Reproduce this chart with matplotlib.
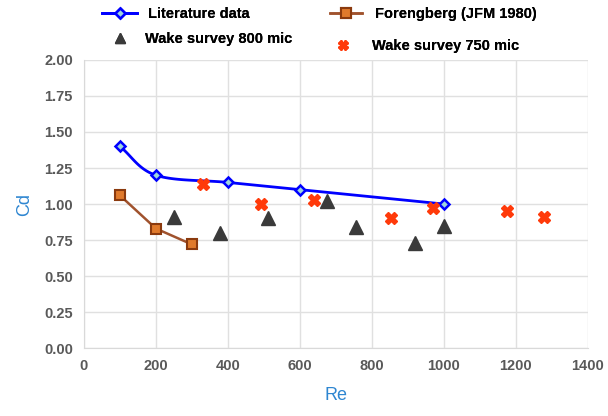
import numpy as np
import matplotlib
matplotlib.use("Agg")
import matplotlib.pyplot as plt

# Literature data (smoothed line, diamonds)
lit_re = [100, 200, 400, 600, 1000]
lit_cd = [1.40, 1.20, 1.15, 1.10, 1.00]

# Forengberg (JFM 1980)
for_re = [100, 200, 300]
for_cd = [1.06, 0.83, 0.72]

# Wake survey 800 mic
w800_re = [250, 378, 511, 675, 756, 919, 1000]
w800_cd = [0.91, 0.80, 0.90, 1.02, 0.84, 0.73, 0.85]

# Wake survey 750 mic
w750_re = [331, 492, 639, 853, 969, 1175, 1278]
w750_cd = [1.14, 1.00, 1.03, 0.90, 0.97, 0.95, 0.91]

x_ticks = [0, 200, 400, 600, 800, 1000, 1200, 1400]
y_ticks = [0.00, 0.25, 0.50, 0.75, 1.00, 1.25, 1.50, 1.75, 2.00]


def smooth(xs, ys, n=30):
    """Catmull-Rom curve through points, like a spreadsheet 'smoothed line'."""
    p = np.column_stack([xs, ys]).astype(float)
    p = np.vstack([2 * p[0] - p[1], p, 2 * p[-1] - p[-2]])
    out = []
    for i in range(1, len(p) - 2):
        p0, p1, p2, p3 = p[i - 1], p[i], p[i + 1], p[i + 2]
        t = np.linspace(0, 1, n)[:, None]
        seg = 0.5 * ((2 * p1) + (-p0 + p2) * t
                     + (2 * p0 - 5 * p1 + 4 * p2 - p3) * t ** 2
                     + (-p0 + 3 * p1 - 3 * p2 + p3) * t ** 3)
        out.append(seg)
    c = np.vstack(out)
    return c[:, 0], c[:, 1]


plt.rcParams["font.family"] = ["Liberation Sans", "DejaVu Sans"]

fig = plt.figure(figsize=(6.08, 4.16), dpi=100)
ax = fig.add_axes([0.138, 0.163, 0.829, 0.693])

lit_style = dict(color="#0000FF", lw=2, marker="D", ms=5.5,
                 mfc="#9FD6DC", mec="#0000FF", mew=1.8)
sx, sy = smooth(lit_re, lit_cd)
ax.plot(sx, sy, color="#0000FF", lw=2, zorder=3)
ax.plot(lit_re, lit_cd, ls="none", marker="D", ms=5.5, mfc="#9FD6DC",
        mec="#0000FF", mew=1.8, zorder=4)
h_lit, = ax.plot([], [], **lit_style)

h_for, = ax.plot(for_re, for_cd, color="#A0522D", lw=1.8, marker="s", ms=7,
                 mfc="#E07A2C", mec="#8B3A0E", mew=1.5, zorder=4)
h_800, = ax.plot(w800_re, w800_cd, ls="none", marker="^", ms=9.5,
                 color="#3A3A3A", zorder=4)
h_750, = ax.plot(w750_re, w750_cd, ls="none", marker="X", ms=9,
                 color="#FF3A0A", mec="#FF3A0A", zorder=4)

ax.set_xlim(0, 1400)
ax.set_ylim(0, 2.0)
ax.set_xticks(x_ticks)
ax.set_yticks(y_ticks)
ax.set_yticklabels([f"{v:.2f}" for v in y_ticks])
ax.grid(True, color="#E0E0E0", lw=1)
ax.set_axisbelow(True)
for s in ["top", "right"]:
    ax.spines[s].set_visible(False)
ax.spines["left"].set_color("#D9D9D9")
ax.spines["bottom"].set_color("#D9D9D9")
ax.tick_params(length=0, labelsize=10.5, labelcolor="#595959", pad=8)
for lab in ax.get_xticklabels() + ax.get_yticklabels():
    lab.set_fontweight("bold")

ax.set_xlabel("Re", color="#2E86D1", fontsize=13, labelpad=10)
ax.set_ylabel("Cd", color="#2E86D1", fontsize=13, labelpad=8)

# legend entries placed individually (staggered, as in the original)
W, H = 608, 416
entries = [
    (h_lit, "Literature data", 102, 14, 2.4, 0.75, 1.0),
    (h_for, "Forengberg (JFM 1980)", 330, 14, 2.2, 0.9, 1.0),
    (h_800, "Wake survey 800 mic", 113, 39, 1.0, 1.2, 0.8),
    (h_750, "Wake survey 750 mic", 336, 46, 1.0, 1.5, 0.75),
]
for h, text, px, py, hl, tp, ms in entries:
    lg = fig.legend([h], [text], loc="center left",
                    bbox_to_anchor=(px / W, 1 - py / H), frameon=False,
                    borderpad=0, borderaxespad=0, handlelength=hl,
                    handletextpad=tp, markerscale=ms,
                    prop={"weight": "bold", "size": 10.5})
    fig.add_artist(lg)

fig.savefig("out.png", dpi=100)
